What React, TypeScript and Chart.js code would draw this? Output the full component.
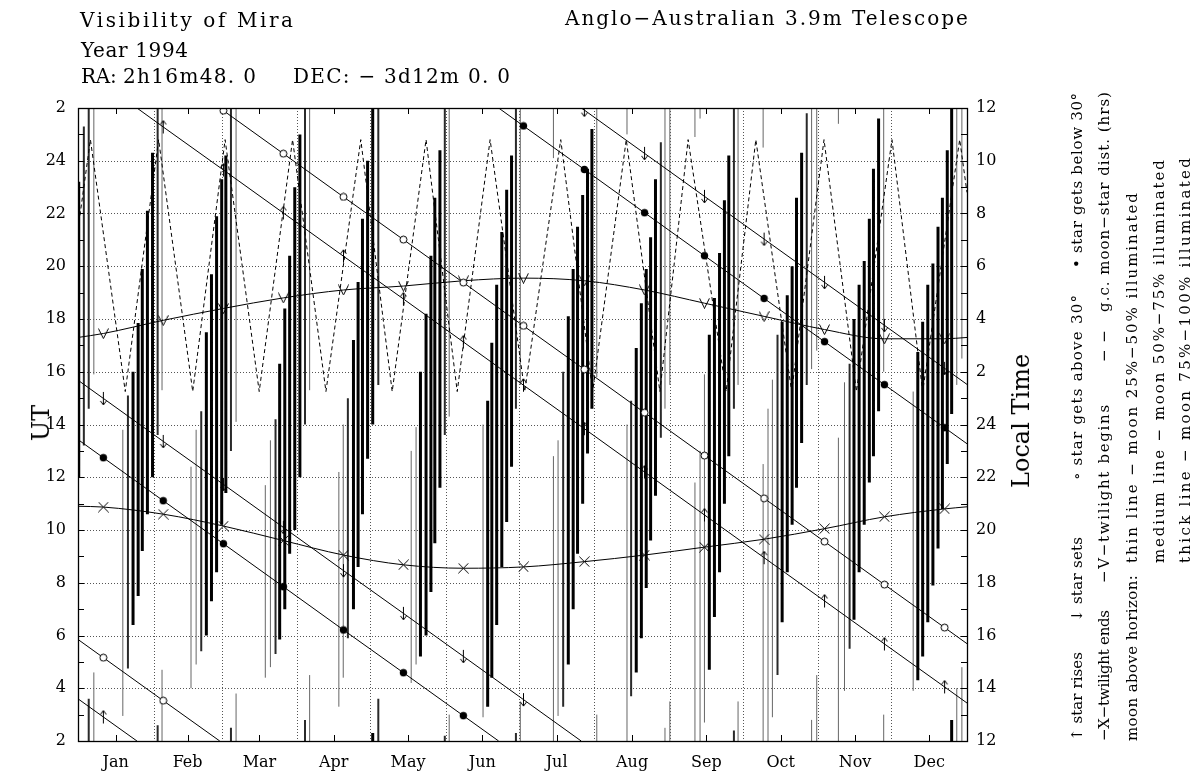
import React, { useEffect, useRef } from "react";
import { Chart, registerables } from "chart.js";

Chart.register(...registerables);

const FONT = "'DejaVu Serif', serif";

// ---- axes ----
const monthLabels = ["Jan", "Feb", "Mar", "Apr", "May", "Jun", "Jul", "Aug", "Sep", "Oct", "Nov", "Dec"];
const monthMid = [15.5, 45, 74.5, 105, 135.5, 166, 196.5, 227.5, 258, 288.5, 319, 349.5];
const monthEdges = [31, 59, 90, 120, 151, 181, 212, 243, 273, 304, 334];
const utTicks = [2, 4, 6, 8, 10, 12, 14, 16, 18, 20, 22, 24, 26];

// ---- star rise / set / 30 deg lines (value at start, day of wrap, value at end) ----
const markerDays = [10.4, 35.0, 59.7, 84.3, 109.0, 133.6, 158.2, 182.9, 207.9, 232.6, 257.2, 281.7, 306.5, 331.1, 355.8];
const riseEnds = [3.6, 24.2, 3.44];
const riseMarks = [2.91, 25.28, 23.65, 22.02, 20.38, 18.76, 17.13, 15.49, 13.84, 12.2, 10.57, 8.95, 7.31, 5.68, 4.05];
const aboveEnds = [5.85, 58.2, 5.69];
const aboveMarks = [5.16, 3.53, 25.9, 24.27, 22.63, 21.01, 19.38, 17.74, 16.09, 14.45, 12.82, 11.2, 9.56, 7.93, 6.3];
const belowEnds = [13.43, 172.7, 13.27];
const belowMarks = [12.74, 11.11, 9.48, 7.85, 6.21, 4.59, 2.96, 25.32, 23.67, 22.03, 20.4, 18.78, 17.14, 15.51, 13.88];
const setEnds = [15.68, 206.6, 15.52];
const setMarks = [14.99, 13.36, 11.73, 10.1, 8.46, 6.84, 5.21, 3.57, 25.92, 24.28, 22.65, 21.03, 19.39, 17.76, 16.13];

// ---- twilight ----
const twBeginEnds = [17.3, 17.3];
const twBeginMarks = [17.45, 17.95, 18.4, 18.8, 19.1, 19.25, 19.45, 19.55, 19.45, 19.1, 18.6, 18.1, 17.6, 17.25, 17.25];
const twEndEnds = [10.9, 10.88];
const twEndMarks = [10.87, 10.6, 10.15, 9.6, 9.05, 8.68, 8.55, 8.6, 8.8, 9.05, 9.35, 9.65, 10.05, 10.5, 10.8];

// ---- g.c. moon-star distance (dashed) ----
const distDays = [0, 5.1, 19.4, 33.1, 47.1, 60.4, 74.4, 88.1, 101.8, 116.1, 129.0, 142.9, 155.7, 169.2, 183.4, 198.2, 211.3, 225.1, 238.9, 250.5, 266.1, 278.3, 293.0, 306.3, 319.6, 334.2, 346.8, 362.0, 365];
const distUT = [21.4, 24.8, 15.25, 24.8, 15.25, 24.8, 15.25, 24.8, 15.25, 24.8, 15.25, 24.8, 15.25, 24.8, 15.25, 24.8, 15.25, 24.8, 15.25, 24.8, 15.25, 24.8, 15.25, 24.8, 15.25, 24.8, 15.25, 24.8, 22.8];

// ---- moon above horizon: day, rise (UT), set (UT), weight (1 thin, 2 medium, 3 thick) ----
const moonDay = [
  0.3, 2.4, 4.4, 6.5,
  18.4, 20.5, 22.6, 24.7, 26.4, 28.5, 30.6, 32.7, 34.5,
  46.4, 48.5, 50.6, 52.7, 54.8, 56.9, 59.0, 60.7, 62.8, 64.9,
  76.9, 79.0, 81.1, 82.8, 84.9, 86.9, 89.0, 91.1, 93.2, 95.1,
  107.1, 108.9, 110.8, 113.1, 115.0, 116.8, 118.9, 121.0, 123.3,
  136.8, 138.8, 140.6, 142.9, 144.9, 146.5, 148.6, 150.6, 152.4,
  166.3, 168.2, 169.9, 171.9, 174.0, 176.0, 178.0, 179.8, 181.6,
  195.2, 197.1, 199.2, 201.3, 203.3, 205.1, 207.2, 209.2, 211.0, 213.0,
  225.4, 227.1, 229.2, 231.3, 233.3, 235.1, 237.1, 239.3, 241.0, 243.0,
  253.3, 255.4, 257.2, 259.2, 261.3, 263.4, 265.4, 267.2, 269.3, 271.0,
  281.3, 283.3, 285.1, 287.2, 289.1, 291.2, 293.2, 295.0, 297.1, 299.2, 301.2, 303.3,
  312.2, 314.7, 316.8, 318.6, 320.7, 322.8, 324.9, 326.6, 328.7, 330.8,
  342.9, 344.8, 346.8, 348.9, 351.0, 353.1, 354.9, 356.9, 358.7, 360.8, 362.9,
];
const moonRise = [
  12.0, 13.2, 14.6, 15.9,
  2.95, 4.75, 6.4, 7.5, 9.2, 10.6, 12.0, 13.6, 15.3,
  4.0, 4.9, 5.4, 6.0, 7.3, 8.4, 10.2, 11.4, 13.0, 14.1,
  4.4, 4.8, 5.3, 5.85, 7.0, 9.1, 10.0, 12.0, 14.0, 15.3,
  3.3, 4.4, 5.9, 7.0, 8.6, 10.6, 12.7, 14.0, 15.5,
  4.2, 4.9, 5.2, 6.0, 7.65, 9.5, 11.6, 13.6, 14.3,
  2.9, 3.3, 4.4, 6.4, 8.6, 10.3, 12.4, 14.6, 15.5,
  0.1, 2.95, 3.3, 4.9, 7.0, 9.1, 11.0, 12.9, 14.6, 15.8,
  1.0, 3.7, 4.6, 5.9, 7.8, 9.6, 11.3, 13.5, 14.6, 15.5,
  0.9, 1.6, 2.7, 4.7, 6.7, 8.4, 11.0, 12.8, 14.6, 15.5,
  0.5, 2.0, 2.9, 4.5, 6.5, 8.4, 10.2, 11.6, 13.3, 15.5, 16.1, 16.8,
  1.4, 3.9, 5.5, 6.6, 8.4, 10.2, 11.8, 12.8, 14.5, 16.0,
  3.9, 4.3, 5.2, 6.5, 7.9, 9.3, 10.8, 12.5, 14.4, 15.5, 16.5,
];
const moonSet = [
  23.2, 25.3, 27.6, 28.6,
  13.8, 15.1, 16.0, 17.85, 19.9, 22.1, 24.3, 26.6, 28.7,
  12.4, 13.8, 14.5, 17.5, 19.7, 21.9, 23.3, 24.2, 26.5, 27.8,
  11.7, 13.4, 14.2, 16.3, 18.4, 20.4, 23.0, 25.0, 26.8, 28.5,
  12.2, 14.0, 15.0, 17.2, 19.4, 21.8, 24.0, 26.3, 27.6,
  13.0, 13.9, 16.0, 18.2, 20.4, 22.6, 24.4, 26.2, 27.0,
  14.0, 14.9, 17.1, 19.3, 21.3, 22.9, 24.2, 26.3, 27.5,
  12.8, 13.4, 16.0, 18.1, 19.9, 21.5, 22.7, 23.7, 25.2, 27.0,
  14.0, 14.9, 16.9, 18.6, 19.9, 21.1, 23.3, 24.7, 26.5, 27.5,
  11.8, 13.0, 15.9, 17.4, 18.8, 20.5, 22.5, 24.2, 26.4, 27.5,
  12.5, 14.6, 15.7, 17.4, 17.9, 18.9, 20.0, 22.6, 24.3, 25.8, 26.8, 28.5,
  13.5, 15.6, 16.3, 18.0, 19.3, 20.2, 21.8, 23.7, 25.6, 27.0,
  15.25, 16.75, 17.9, 19.3, 20.1, 21.5, 22.6, 24.4, 26.8, 28.0, 28.8,
];
const moonWeight = [
  3, 2, 2, 1,
  1, 2, 3, 3, 3, 3, 3, 2, 1,
  1, 1, 2, 3, 3, 3, 3, 3, 2, 1,
  1, 1, 2, 3, 3, 3, 3, 3, 2, 1,
  1, 1, 2, 3, 3, 3, 3, 3, 2,
  1, 1, 3, 3, 3, 3, 3, 2, 1,
  1, 3, 3, 3, 3, 3, 3, 2, 1,
  1, 1, 2, 3, 3, 3, 3, 3, 3, 1,
  1, 2, 3, 3, 3, 3, 3, 2, 1, 1,
  1, 1, 1, 3, 3, 3, 3, 3, 2, 1,
  1, 1, 1, 2, 3, 3, 3, 3, 3, 2, 1, 1,
  1, 1, 2, 3, 3, 3, 3, 3, 3, 1,
  1, 3, 3, 3, 3, 3, 3, 3, 3, 1, 1,
];

// ---- text (label, left/centre x, start, end) ----
const headTexts: [string, number, number, number][] = [
  ["Visibility of Mira", 80, 10, 293],
  ["Anglo−Australian 3.9m Telescope", 565, 8, 968],
  ["Year 1994", 81, 40, 188],
  ["RA:", 81, 66, 112],
  ["2h16m48. 0", 123, 66, 256],
  ["DEC: − 3d12m 0. 0", 293, 66, 510],
];
const legendTexts: [string, number, number, number][] = [
  ["↑ star rises", 1077, 741, 652],
  ["↓ star sets", 1077, 622, 537],
  ["∘ star gets above 30°", 1077, 480, 295],
  ["• star gets below 30°", 1077, 268, 93],
  ["−X−twilight ends", 1104, 741, 610],
  ["−V−twilight begins", 1104, 583, 405],
  ["− −   g.c. moon−star dist. (hrs)", 1104, 362, 92],
  ["moon above horizon:", 1132, 741, 575],
  ["thin line − moon 25%−50% illuminated", 1132, 563, 193],
  ["medium line − moon 50%−75% illuminated", 1159, 563, 160],
  ["thick line − moon 75%−100% illuminated", 1185, 563, 158],
];

// ---- builders ----
type Pt = { x: number; y: number | null; m?: boolean };

function wrapLine(ends: number[], marks: number[]): Pt[] {
  const [v0, wrapDay, vEnd] = ends;
  const pts: Pt[] = [{ x: 0, y: v0 }];
  markerDays.forEach((d, i) => {
    if (d < wrapDay) pts.push({ x: d, y: marks[i], m: true });
  });
  pts.push({ x: wrapDay, y: 2 }, { x: wrapDay, y: null }, { x: wrapDay, y: 26 });
  markerDays.forEach((d, i) => {
    if (d >= wrapDay) pts.push({ x: d, y: marks[i], m: true });
  });
  pts.push({ x: 365, y: vEnd });
  return pts;
}

function curve(ends: number[], marks: number[]): Pt[] {
  const pts: Pt[] = [{ x: 0, y: ends[0] }];
  markerDays.forEach((d, i) => pts.push({ x: d, y: marks[i], m: true }));
  pts.push({ x: 365, y: ends[1] });
  return pts;
}

function moonSegments(weight: number): Pt[] {
  const pts: Pt[] = [];
  moonDay.forEach((d, i) => {
    if (moonWeight[i] !== weight) return;
    const r = moonRise[i];
    const s = moonSet[i];
    const segs: number[][] = [];
    if (r < 2) {
      segs.push([r + 24, 26], [2, s]);
    } else if (s > 26) {
      segs.push([r, 26], [2, s - 24]);
    } else {
      segs.push([r, s]);
    }
    segs.forEach(([a, b]) => {
      pts.push({ x: d, y: a }, { x: d, y: b }, { x: d, y: null });
    });
  });
  return pts;
}

function glyph(kind: string): HTMLCanvasElement {
  const c = document.createElement("canvas");
  let w = 9, h = 9;
  if (kind === "up" || kind === "down") { w = 9; h = 15; }
  if (kind === "V" || kind === "X") { w = 11; h = 11; }
  c.width = w; c.height = h;
  const g = c.getContext("2d")!;
  g.strokeStyle = "#000"; g.fillStyle = "#000"; g.lineWidth = 1;
  g.beginPath();
  if (kind === "up") {
    g.moveTo(4.5, 14); g.lineTo(4.5, 1);
    g.moveTo(1.5, 5); g.lineTo(4.5, 1); g.lineTo(7.5, 5);
    g.stroke();
  } else if (kind === "down") {
    g.moveTo(4.5, 1); g.lineTo(4.5, 14);
    g.moveTo(1.5, 10); g.lineTo(4.5, 14); g.lineTo(7.5, 10);
    g.stroke();
  } else if (kind === "V") {
    g.moveTo(0.5, 0.5); g.lineTo(5.5, 10.5); g.lineTo(10.5, 0.5);
    g.stroke();
  } else if (kind === "X") {
    g.moveTo(0.5, 0.5); g.lineTo(10.5, 10.5);
    g.moveTo(10.5, 0.5); g.lineTo(0.5, 10.5);
    g.stroke();
  } else if (kind === "open") {
    g.arc(4.5, 4.5, 3.5, 0, Math.PI * 2);
    g.fillStyle = "#fff"; g.fill(); g.stroke();
  } else {
    g.arc(4.5, 4.5, 3.7, 0, Math.PI * 2);
    g.fill();
  }
  return c;
}

let measureCtx: CanvasRenderingContext2D | null = null;
function spacingFor(text: string, size: number, target: number): number {
  if (!measureCtx) measureCtx = document.createElement("canvas").getContext("2d");
  if (!measureCtx) return 0;
  measureCtx.font = `${size}px 'DejaVu Serif'`;
  const w = measureCtx.measureText(text).width;
  const n = Array.from(text).length;
  return Math.max(-0.3, (target - w) / Math.max(1, n - 1));
}

const framePlugin = {
  id: "visFrame",
  beforeDatasetsDraw(chart: any) {
    const { ctx, chartArea: a, scales } = chart;
    ctx.save();
    ctx.strokeStyle = "#555";
    ctx.lineWidth = 1;
    ctx.setLineDash([1, 2]);
    utTicks.filter((v) => v > 2 && v < 26).forEach((v) => {
      const py = Math.round(scales.y.getPixelForValue(v)) + 0.5;
      ctx.beginPath(); ctx.moveTo(a.left, py); ctx.lineTo(a.right, py); ctx.stroke();
    });
    monthEdges.forEach((d) => {
      const px = Math.round(scales.x.getPixelForValue(d)) + 0.5;
      ctx.beginPath(); ctx.moveTo(px, a.top); ctx.lineTo(px, a.bottom); ctx.stroke();
    });
    ctx.restore();
  },
  afterDatasetsDraw(chart: any) {
    const { ctx, chartArea: a, scales } = chart;
    ctx.save();
    ctx.strokeStyle = "#000";
    ctx.lineWidth = 1;
    ctx.setLineDash([]);
    ctx.beginPath();
    for (let h = 3; h < 26; h++) {
      const py = Math.round(scales.y.getPixelForValue(h)) + 0.5;
      ctx.moveTo(a.left, py); ctx.lineTo(a.left + 6, py);
      ctx.moveTo(a.right - 6, py); ctx.lineTo(a.right, py);
    }
    monthMid.forEach((d) => {
      const px = Math.round(scales.x.getPixelForValue(d)) + 0.5;
      ctx.moveTo(px, a.top); ctx.lineTo(px, a.top + 6);
      ctx.moveTo(px, a.bottom - 6); ctx.lineTo(px, a.bottom);
    });
    ctx.stroke();
    ctx.lineWidth = 1.3;
    ctx.strokeRect(Math.round(a.left) + 0.5, Math.round(a.top) + 0.5, Math.round(a.right - a.left), Math.round(a.bottom - a.top));
    ctx.restore();
  },
};

const markRadius = (c: any) => (c.raw && c.raw.m ? 5 : 0);

export default function App() {
  const ref = useRef<HTMLCanvasElement>(null);

  useEffect(() => {
    if (!ref.current) return;
    const base = {
      showLine: true,
      borderColor: "#000",
      backgroundColor: "#000",
      borderWidth: 1,
      pointHoverRadius: 0,
      pointHitRadius: 0,
    };
    const chart = new Chart(ref.current, {
      type: "scatter",
      data: {
        datasets: [
          { ...base, data: wrapLine(riseEnds, riseMarks), pointStyle: glyph("up"), pointRadius: markRadius },
          { ...base, data: wrapLine(setEnds, setMarks), pointStyle: glyph("down"), pointRadius: markRadius },
          { ...base, data: wrapLine(aboveEnds, aboveMarks), pointStyle: glyph("open"), pointRadius: markRadius },
          { ...base, data: wrapLine(belowEnds, belowMarks), pointStyle: glyph("filled"), pointRadius: markRadius },
          { ...base, data: curve(twBeginEnds, twBeginMarks), pointStyle: glyph("V"), pointRadius: markRadius, tension: 0.4, cubicInterpolationMode: "monotone" },
          { ...base, data: curve(twEndEnds, twEndMarks), pointStyle: glyph("X"), pointRadius: markRadius, tension: 0.4, cubicInterpolationMode: "monotone" },
          { ...base, data: distDays.map((d, i) => ({ x: d, y: distUT[i] })), pointRadius: 0, borderDash: [4, 3] },
          { ...base, data: moonSegments(3), pointRadius: 0, borderWidth: 3, borderColor: "#000" },
          { ...base, data: moonSegments(2), pointRadius: 0, borderWidth: 2, borderColor: "#2a2a2a" },
          { ...base, data: moonSegments(1), pointRadius: 0, borderWidth: 1, borderColor: "#666" },
        ] as any,
      },
      options: {
        animation: false,
        responsive: true,
        maintainAspectRatio: false,
        events: [],
        layout: { padding: { left: 0, right: 168, top: 108, bottom: 0 } },
        plugins: { legend: { display: false }, tooltip: { enabled: false }, title: { display: false } },
        scales: {
          x: {
            type: "linear",
            min: 0,
            max: 365,
            grid: { display: false, drawTicks: false },
            border: { display: false },
            afterBuildTicks: (s: any) => { s.ticks = monthMid.map((v) => ({ value: v })); },
            afterFit: (s: any) => { s.height = 36; },
            ticks: {
              autoSkip: false,
              maxRotation: 0,
              padding: 12,
              color: "#000",
              font: { family: FONT, size: 16 },
              callback: (_v: any, i: number) => monthLabels[i],
            },
          },
          y: {
            type: "linear",
            position: "left",
            min: 2,
            max: 26,
            grid: { display: false, drawTicks: false },
            border: { display: false },
            afterBuildTicks: (s: any) => { s.ticks = utTicks.map((v) => ({ value: v })); },
            afterFit: (s: any) => { s.width = 78; },
            ticks: {
              padding: 12,
              color: "#000",
              font: { family: FONT, size: 16 },
              callback: (v: any) => String(v > 24 ? v - 24 : v),
            },
          },
          y2: {
            type: "linear",
            position: "right",
            min: 2,
            max: 26,
            grid: { display: false, drawTicks: false },
            border: { display: false },
            afterBuildTicks: (s: any) => { s.ticks = utTicks.map((v) => ({ value: v })); },
            afterFit: (s: any) => { s.width = 60; },
            ticks: {
              padding: 9,
              color: "#000",
              font: { family: FONT, size: 16 },
              callback: (v: any) => String((v + 10) % 24 === 0 ? 24 : (v + 10) % 24),
            },
          },
        },
      } as any,
      plugins: [framePlugin],
    });
    return () => chart.destroy();
  }, []);

  return (
    <div style={{ position: "absolute", left: 0, top: 0, width: 1195, height: 777, background: "#fff", color: "#000", fontFamily: FONT, overflow: "hidden" }}>
      <div style={{ position: "absolute", left: 0, top: 0, width: 1195, height: 777 }}>
        <canvas ref={ref} />
      </div>
      {headTexts.map(([t, x, top, end], i) => (
        <div
          key={"h" + i}
          style={{
            position: "absolute", left: x, top, fontSize: 20, lineHeight: "20px",
            letterSpacing: `${spacingFor(t, 20, end - x).toFixed(2)}px`, whiteSpace: "pre",
          }}
        >
          {t}
        </div>
      ))}
      <div style={{ position: "absolute", left: 41, top: 423, transform: "translate(-50%, -50%) rotate(-90deg)", fontSize: 24, whiteSpace: "nowrap" }}>UT</div>
      <div style={{ position: "absolute", left: 1021, top: 421, transform: "translate(-50%, -50%) rotate(-90deg)", fontSize: 24, whiteSpace: "nowrap" }}>Local Time</div>
      {legendTexts.map(([t, cx, y0, y1], i) => (
        <div
          key={"l" + i}
          style={{
            position: "absolute", left: cx - 10, top: y0, height: 20, lineHeight: "20px",
            fontSize: 15, letterSpacing: `${spacingFor(t, 15, y0 - y1).toFixed(2)}px`, whiteSpace: "pre",
            transform: "rotate(-90deg)", transformOrigin: "0 0",
          }}
        >
          {t}
        </div>
      ))}
    </div>
  );
}
